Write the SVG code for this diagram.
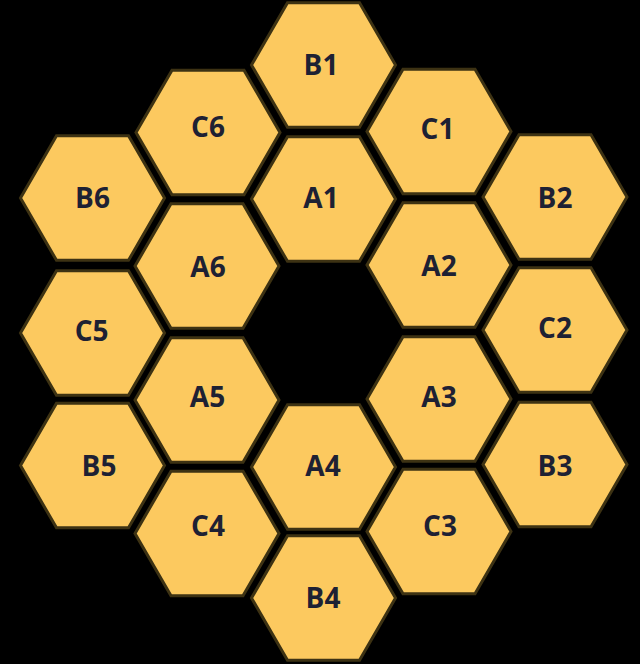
<svg xmlns="http://www.w3.org/2000/svg" xmlns:xlink="http://www.w3.org/1999/xlink" width="640" height="664" viewBox="0 0 640 664">
<defs>
<style>
.hex{fill:#FCC95F;stroke:#3D3213;stroke-width:3;stroke-linejoin:miter}
.lbl{font-family:"Open Sans","Noto Sans","Liberation Sans",sans-serif;font-weight:700;font-size:28px;fill:#1E2133;text-anchor:middle}
</style>
<polygon id="hex" points="-72,0 -36,-62.35 36,-62.35 72,0 36,62.35 -36,62.35"/>
</defs>
<rect x="0" y="0" width="640" height="664" fill="#000"/>
<g id="connectors"/>
<g id="B1"><use href="#hex" class="hex" transform="translate(323.5,65)"/><text class="lbl" x="321" y="75">B1</text></g>
<g id="A1"><use href="#hex" class="hex" transform="translate(323.5,199)"/><text class="lbl" x="321" y="208">A1</text></g>
<g id="A4"><use href="#hex" class="hex" transform="translate(323.5,467)"/><text class="lbl" x="323" y="476">A4</text></g>
<g id="B4"><use href="#hex" class="hex" transform="translate(323.5,598)"/><text class="lbl" x="323" y="607.5">B4</text></g>
<g id="C6"><use href="#hex" class="hex" transform="translate(208,132.5)"/><text class="lbl" x="208" y="136.7">C6</text></g>
<g id="A6"><use href="#hex" class="hex" transform="translate(207,266)"/><text class="lbl" x="208" y="276.7">A6</text></g>
<g id="A5"><use href="#hex" class="hex" transform="translate(207,400)"/><text class="lbl" x="207.5" y="407">A5</text></g>
<g id="C4"><use href="#hex" class="hex" transform="translate(207,533.5)"/><text class="lbl" x="208" y="536">C4</text></g>
<g id="C1"><use href="#hex" class="hex" transform="translate(439,131.5)"/><text class="lbl" x="437.5" y="139">C1</text></g>
<g id="A2"><use href="#hex" class="hex" transform="translate(439,265)"/><text class="lbl" x="439" y="276">A2</text></g>
<g id="A3"><use href="#hex" class="hex" transform="translate(439,399)"/><text class="lbl" x="439" y="406.7">A3</text></g>
<g id="C3"><use href="#hex" class="hex" transform="translate(439,531.5)"/><text class="lbl" x="440" y="536">C3</text></g>
<g id="B6"><use href="#hex" class="hex" transform="translate(92.5,198)"/><text class="lbl" x="92.5" y="207.5">B6</text></g>
<g id="C5"><use href="#hex" class="hex" transform="translate(92.5,333)"/><text class="lbl" x="91.7" y="341">C5</text></g>
<g id="B5"><use href="#hex" class="hex" transform="translate(92.5,465.5)"/><text class="lbl" x="99" y="476">B5</text></g>
<g id="B2"><use href="#hex" class="hex" transform="translate(555,197)"/><text class="lbl" x="555" y="207.5">B2</text></g>
<g id="C2"><use href="#hex" class="hex" transform="translate(555,330)"/><text class="lbl" x="555" y="337.5">C2</text></g>
<g id="B3"><use href="#hex" class="hex" transform="translate(555,464.5)"/><text class="lbl" x="555" y="476">B3</text></g>
</svg>
